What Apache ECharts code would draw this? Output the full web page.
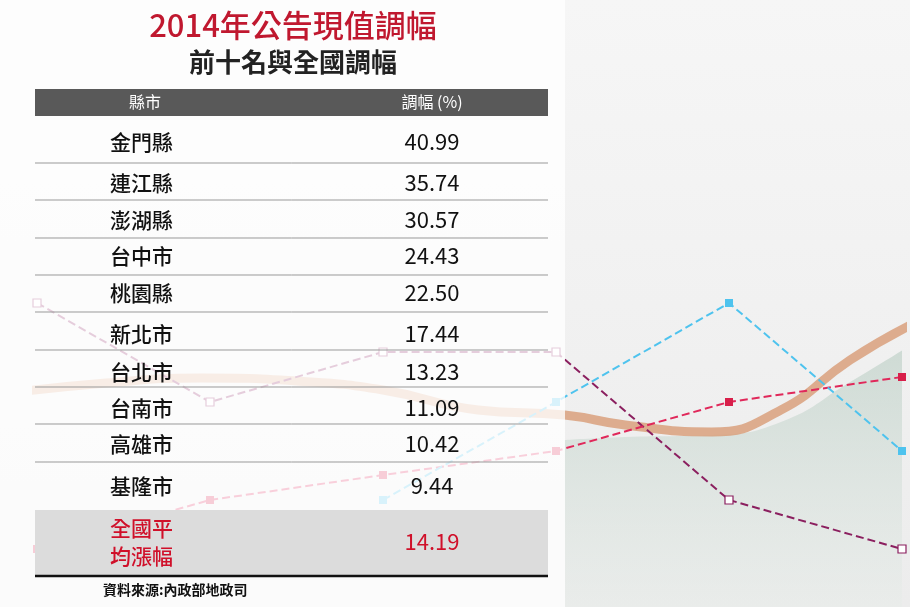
<!DOCTYPE html><html><head><meta charset="utf-8">
<script src="https://cdn.jsdelivr.net/npm/echarts@6/dist/echarts.min.js"></script>
<style>html,body{margin:0;padding:0;background:#fff}#c{width:910px;height:607px}</style></head><body><div id="c"></div>
<script>
const regions=['金門縣','連江縣','澎湖縣','台中市','桃園縣','新北市','台北市','台南市','高雄市','基隆市'];
const rates=['40.99','35.74','30.57','24.43','22.50','17.44','13.23','11.09','10.42','9.44'];
const nationalLabel='全國平\n均漲幅', nationalRate='14.19';
const decoX=[0,1,2,3,4,5];
const lineA=[304,205,255,255,107,58];
const lineB=[58,107,132,156,205,230];
const lineC=[null,null,107,205,304,156];
const waveX=[-0.25,0.4,0.95,1.5,2,2.55,3.05,3.4,3.9,4.3,4.7,5.05];
const wave=[212,224,229,226,217,197,192,182,175,197,247,282];
const greenArea=[null,null,null,null,null,null,167,170,172,185,225,262];

const chart=echarts.init(document.getElementById('c'));
const F='"Noto Sans CJK TC","Noto Sans",sans-serif';
const g=[];
g.push({type:'rect',shape:{x:0,y:0,width:565,height:607},style:{fill:'rgba(255,255,255,0.78)'},z:10});
g.push({type:'text',x:293,y:25,style:{text:'2014年公告現值調幅',font:'500 31px '+F,fill:'#c0182f',align:'center',verticalAlign:'middle'},z:20});
g.push({type:'text',x:293,y:62,style:{text:'前十名與全國調幅',font:'bold 26px '+F,fill:'#222',align:'center',verticalAlign:'middle'},z:20});
g.push({type:'rect',shape:{x:35,y:89,width:513,height:27},style:{fill:'#595959'},z:20});
g.push({type:'text',x:145,y:102,style:{text:'縣市',font:'16px '+F,fill:'#fff',align:'center',verticalAlign:'middle'},z:21});
g.push({type:'text',x:432,y:102,style:{text:'調幅 (%)',font:'16px '+F,fill:'#fff',align:'center',verticalAlign:'middle'},z:21});
const ys=[142,183,220,256,293,334,372,408,444,486];
const seps=[163,200,238,275,312,350,387,424,462];
seps.forEach(y=>g.push({type:'line',shape:{x1:35,y1:y,x2:548,y2:y},style:{stroke:'#999',lineWidth:1},z:20}));
regions.forEach((r,i)=>{
 g.push({type:'text',x:110,y:ys[i],style:{text:r,font:'500 21px '+F,fill:'#111',verticalAlign:'middle'},z:21});
 g.push({type:'text',x:432,y:ys[i],style:{text:rates[i],font:'22px '+F,fill:'#111',align:'center',verticalAlign:'middle'},z:21});
});
g.push({type:'rect',shape:{x:35,y:510,width:513,height:65},style:{fill:'#dcdcdc'},z:20});
g.push({type:'line',shape:{x1:35,y1:576,x2:548,y2:576},style:{stroke:'#111',lineWidth:2.5},z:21});
g.push({type:'text',x:110,y:542,style:{text:nationalLabel,font:'500 21px '+F,fill:'#d0102a',verticalAlign:'middle',lineHeight:28},z:21});
g.push({type:'text',x:432,y:542,style:{text:nationalRate,font:'22px '+F,fill:'#d0102a',align:'center',verticalAlign:'middle'},z:21});
g.push({type:'text',x:103,y:590,style:{text:'資料來源:內政部地政司',font:'bold 14px '+F,fill:'#111',verticalAlign:'middle'},z:21});

const pts=(arr,xs)=>arr.map((v,i)=>[xs[i],v]);
chart.setOption({
 animation:false,
 backgroundColor:{type:'linear',x:0,y:0,x2:0,y2:1,colorStops:[{offset:0,color:'#f6f6f6'},{offset:1,color:'#ececec'}]},
 grid:{left:37,right:8,top:0,bottom:0},
 xAxis:{type:'value',min:0,max:5,show:false},
 yAxis:{type:'value',min:0,max:607,show:false},
 graphic:g,
 series:[
  {type:'line',data:pts(greenArea,waveX),smooth:true,symbol:'none',lineStyle:{width:0},
   areaStyle:{origin:'start',color:{type:'linear',x:0,y:0,x2:0,y2:1,colorStops:[{offset:0,color:'rgba(185,205,195,0.9)'},{offset:1,color:'rgba(230,236,232,0.6)'}]}},z:1},
  {type:'line',data:pts(wave,waveX),smooth:true,symbol:'none',lineStyle:{color:'#d9a07c',width:9,opacity:0.85},z:2},
  {type:'line',data:pts(lineA,decoX),symbol:'rect',symbolSize:8,itemStyle:{color:'#fff',borderColor:'#8b1f5f',borderWidth:1.2},lineStyle:{color:'#8b1f5f',type:'dashed',width:2},z:3},
  {type:'line',data:pts(lineB,decoX),symbol:'rect',symbolSize:8,itemStyle:{color:'#d81f4a'},lineStyle:{color:'#e0285a',type:'dashed',width:2},z:3},
  {type:'line',data:pts(lineC,decoX),symbol:'rect',symbolSize:8,itemStyle:{color:'#4ec3ee'},lineStyle:{color:'#4ec3ee',type:'dashed',width:2},z:3}
 ]
});
</script></body></html>
